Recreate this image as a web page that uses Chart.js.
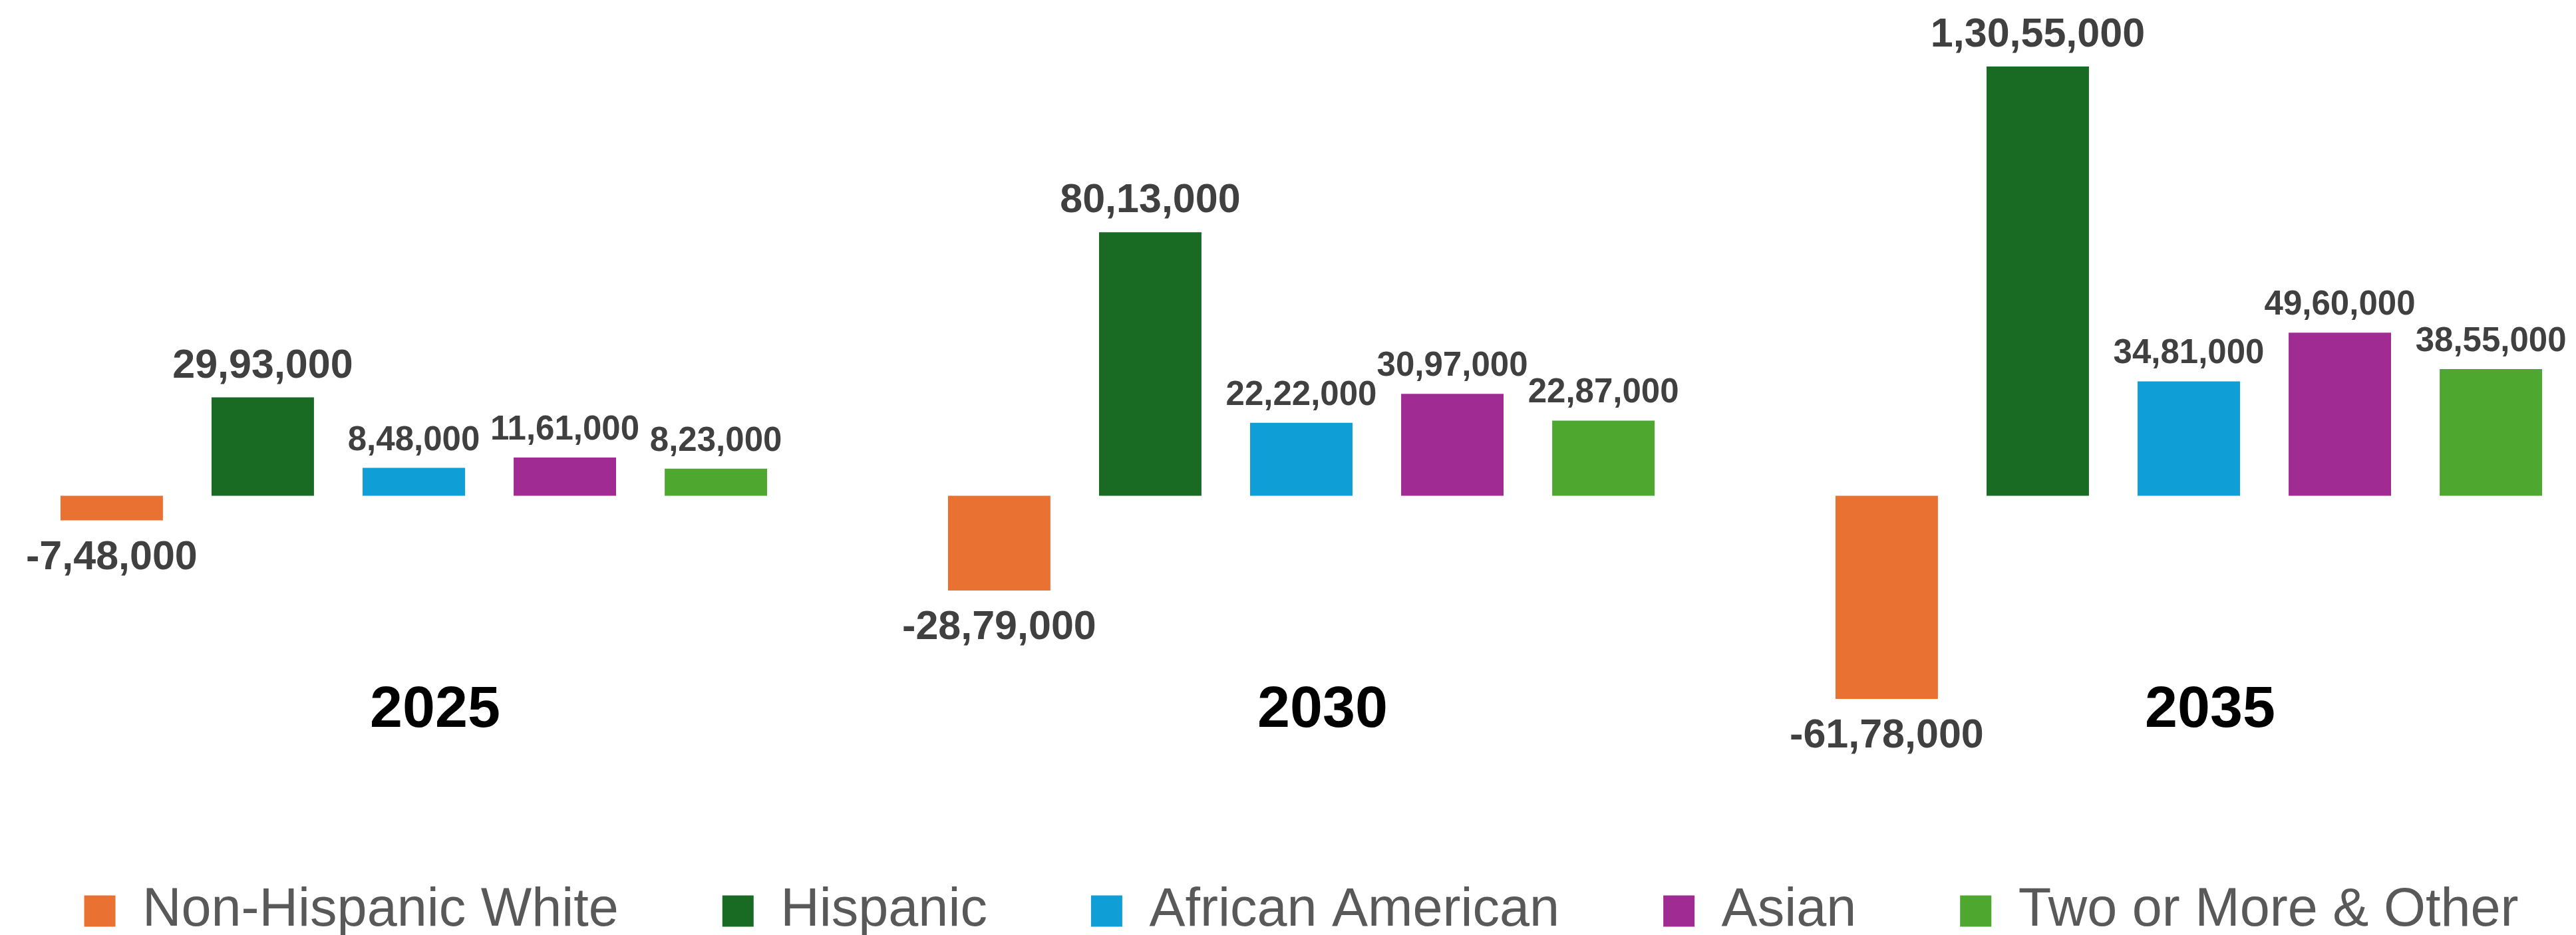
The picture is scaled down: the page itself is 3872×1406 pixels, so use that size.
<!DOCTYPE html>
<html>
<head>
<meta charset="utf-8">
<title>Population change by group</title>
<script src="https://cdn.jsdelivr.net/npm/chart.js@4/dist/chart.umd.min.js"></script>
<style>
  html, body { margin: 0; padding: 0; background: #ffffff; }
  body { width: 3872px; height: 1406px; overflow: hidden; position: relative; }
  /* the plot runs slightly past the page edges on both sides */
  #chart { display: block; position: absolute; left: -45px; top: 0; }
</style>
</head>
<body>
<canvas id="chart" width="4002" height="1421"></canvas>
<script>
// Years on the category axis
const years = ['2025', '2030', '2035'];

// Series names and colours
const seriesNames = ['Non-Hispanic White', 'Hispanic', 'African American', 'Asian', 'Two or More & Other'];
const seriesColors = ['#E97132', '#196B24', '#0F9ED5', '#A02B93', '#4EA72E'];

// Change in population for each group
const nonHispanicWhite = [-748000, -2879000, -6178000];
const hispanic = [2993000, 8013000, 13055000];
const africanAmerican = [848000, 2222000, 3481000];
const asian = [1161000, 3097000, 4960000];
const twoOrMoreOther = [823000, 2287000, 3855000];

const seriesValues = [nonHispanicWhite, hispanic, africanAmerican, asian, twoOrMoreOther];

const FONT = '"Liberation Sans", Arial, Helvetica, sans-serif';

// Value label text size per series: the first two series use larger labels
const labelSizes = [61, 61, 51, 51, 51];

// Indian digit grouping: 1,30,55,000
function formatIndian(v) {
  const neg = v < 0;
  let s = String(Math.abs(Math.round(v)));
  let out;
  if (s.length <= 3) {
    out = s;
  } else {
    const last3 = s.slice(-3);
    let rest = s.slice(0, -3);
    const parts = [];
    while (rest.length > 2) {
      parts.unshift(rest.slice(-2));
      rest = rest.slice(0, -2);
    }
    if (rest.length) parts.unshift(rest);
    out = parts.join(',') + ',' + last3;
  }
  return (neg ? '-' : '') + out;
}

// Value labels above positive bars and below negative ones
const valueLabels = {
  id: 'valueLabels',
  afterDatasetsDraw(chart) {
    const ctx = chart.ctx;
    ctx.save();
    ctx.fillStyle = '#404040';
    ctx.textAlign = 'center';
    ctx.textBaseline = 'alphabetic';
    chart.data.datasets.forEach((ds, di) => {
      const size = labelSizes[di];
      ctx.font = 'bold ' + size + 'px ' + FONT;
      const meta = chart.getDatasetMeta(di);
      meta.data.forEach((bar, i) => {
        const v = ds.data[i];
        const gap = size > 55 ? 30 : 27;
        const y = v >= 0 ? bar.y - gap : bar.y + 73;
        ctx.fillText(formatIndian(v), bar.x, y);
      });
    });
    ctx.restore();
  }
};

new Chart(document.getElementById('chart'), {
  type: 'bar',
  data: {
    labels: years,
    datasets: seriesNames.map((name, i) => ({
      label: name,
      data: seriesValues[i],
      backgroundColor: seriesColors[i],
      borderWidth: 0,
      categoryPercentage: 0.851,
      barPercentage: 0.678,
      clip: false
    }))
  },
  options: {
    responsive: false,
    animation: false,
    layout: {
      padding: { left: 0, right: 0, top: 3.75, bottom: 0.5 }
    },
    plugins: {
      tooltip: { enabled: false },
      legend: {
        position: 'bottom',
        labels: {
          boxWidth: 47,
          boxHeight: 47,
          padding: 156,
          color: '#595959',
          font: { family: FONT, size: 81 }
        }
      }
    },
    scales: {
      x: {
        offset: true,
        grid: { display: false, drawTicks: false },
        border: { display: false },
        ticks: {
          color: '#000000',
          padding: 7,
          labelOffset: 32,
          font: { family: FONT, size: 88, weight: 'bold', lineHeight: 1 }
        },
        afterFit(scale) { scale.height = 156; }
      },
      y: {
        display: false,
        min: -5500000,
        max: 15000000
      }
    }
  },
  plugins: [valueLabels]
});
</script>
</body>
</html>
